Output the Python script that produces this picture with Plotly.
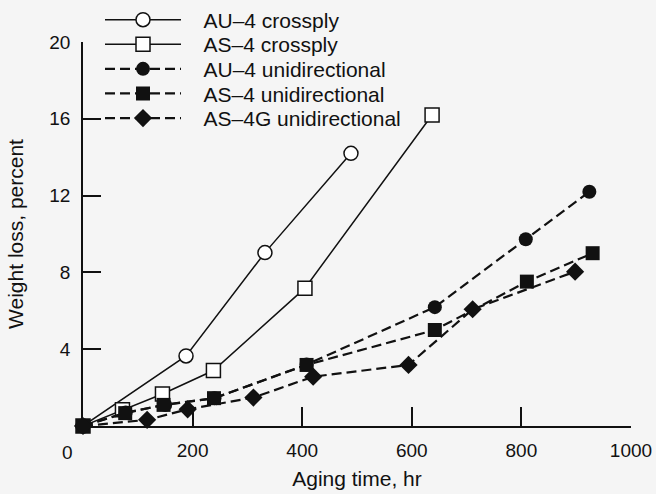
import plotly.graph_objects as go

# ---- data ----
au4_cross_x = [0, 188, 332, 489]
au4_cross_y = [0, 3.65, 9.03, 14.2]

as4_cross_x = [0, 72, 145, 238, 405, 637]
as4_cross_y = [0, 0.84, 1.67, 2.89, 7.18, 16.2]

au4_uni_x = [0, 78, 150, 240, 408, 642, 808, 924]
au4_uni_y = [0, 0.70, 1.10, 1.45, 3.20, 6.19, 9.73, 12.2]

as4_uni_x = [0, 77, 147, 239, 408, 642, 810, 930]
as4_uni_y = [0, 0.67, 1.10, 1.45, 3.18, 5.00, 7.52, 9.00]

as4g_uni_x = [0, 117, 191, 311, 420, 594, 711, 898]
as4g_uni_y = [0, 0.32, 0.87, 1.48, 2.57, 3.18, 6.08, 8.04]

x_ticks = [200, 400, 600, 800, 1000]
y_ticks = [4, 8, 12, 16, 20]

names = ["AU\u20134 crossply", "AS\u20134 crossply", "AU\u20134 unidirectional",
         "AS\u20134 unidirectional", "AS\u20134G unidirectional"]

BG = "#f5f5f5"
INK = "#111111"
FONT = "Liberation Sans, Arial, sans-serif"
PAD = "\u00a0\u00a0\u00a0"

W, H = 656, 494
ML, MR, MT, MB = 83, 25, 42, 68
plot_h = H - MT - MB
plot_w = W - ML - MR

DASH = "10px,5px"
series = [
    (au4_cross_x, au4_cross_y, dict(color=INK, width=1.5),
     dict(symbol="circle", size=14, color="white", line=dict(color=INK, width=1.5))),
    (as4_cross_x, as4_cross_y, dict(color=INK, width=1.5),
     dict(symbol="square", size=14, color="white", line=dict(color=INK, width=1.5))),
    (au4_uni_x, au4_uni_y, dict(color=INK, width=2.2, dash=DASH),
     dict(symbol="circle", size=14, color=INK)),
    (as4_uni_x, as4_uni_y, dict(color=INK, width=2.2, dash=DASH),
     dict(symbol="square", size=14, color=INK)),
    (as4g_uni_x, as4g_uni_y, dict(color=INK, width=2.2, dash=DASH),
     dict(symbol="diamond", size=14, color=INK)),
]

fig = go.Figure()
legend_layout = {}
row_px = [20, 44.6, 69.2, 93.8, 118.4]
for i, (xs, ys, ln, mk) in enumerate(series):
    lname = "legend" if i == 0 else f"legend{i + 1}"
    fig.add_trace(go.Scatter(
        x=xs, y=ys, name=PAD + names[i], mode="lines+markers",
        line=ln, marker=mk, cliponaxis=False, legend=lname))
    legend_layout[lname] = dict(
        x=(100 - ML) / plot_w, y=(H - MB - row_px[i]) / plot_h,
        xanchor="left", yanchor="middle",
        bgcolor="rgba(0,0,0,0)", borderwidth=0,
        font=dict(family=FONT, size=21, color=INK),
        itemwidth=76)

fig.update_layout(
    width=W, height=H,
    margin=dict(l=ML, r=MR, t=MT, b=MB, autoexpand=False),
    paper_bgcolor=BG, plot_bgcolor=BG,
    font=dict(family=FONT, size=19, color=INK),
    showlegend=True,
    xaxis=dict(range=[0, 1000], tickvals=x_ticks, ticks="inside", ticklen=19,
               tickwidth=1.5, tickcolor=INK, showline=True, linecolor=INK, linewidth=1.5,
               showgrid=False, zeroline=False, automargin=False, ticklabelstandoff=6,
               title=dict(text="Aging time, hr", font=dict(size=21), standoff=12)),
    yaxis=dict(range=[0, 20], tickvals=y_ticks, ticks="inside", ticklen=18,
               tickwidth=1.5, tickcolor=INK, showline=True, linecolor=INK, linewidth=1.5,
               showgrid=False, zeroline=False, ticklabelstandoff=7, automargin=False,
               title=dict(text="Weight loss, percent", font=dict(size=21), standoff=20)),
    annotations=[dict(text="0", xref="x", yref="paper", x=0, y=0, xshift=-16,
                      yanchor="top", yshift=-14, showarrow=False,
                      font=dict(family=FONT, size=19, color=INK))],
    **legend_layout,
)

fig.write_html("out.html", config={"displayModeBar": False},
               post_script="document.body.style.margin='0';document.body.style.background='%s';" % BG)
